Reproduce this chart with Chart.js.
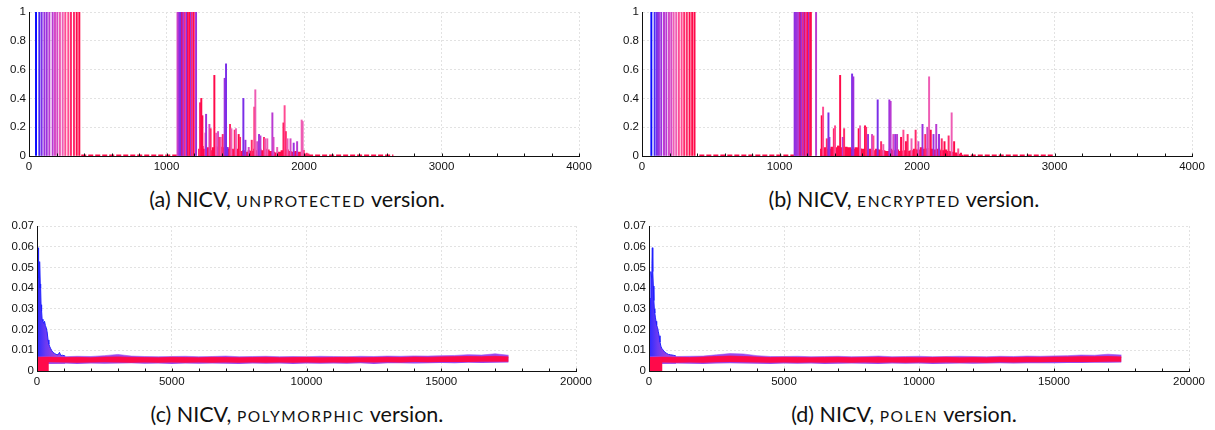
<!DOCTYPE html>
<html><head><meta charset="utf-8">
<script src="https://cdn.jsdelivr.net/npm/chart.js@4.4.0/dist/chart.umd.min.js"></script>
<style>
html,body{margin:0;padding:0;background:#fff;width:1215px;height:430px;overflow:hidden;}
canvas{position:absolute;}
.cap{position:absolute;font-family:Lato,"Open Sans",sans-serif;font-size:21.5px;line-height:24px;color:#111;white-space:nowrap;transform:translateX(-50%);}
.sc{text-transform:uppercase;font-size:15.5px;letter-spacing:1.6px;}
</style></head><body>
<canvas id="ca" width="600" height="172" style="left:0;top:0"></canvas>
<canvas id="cb" width="600" height="172" style="left:613px;top:0"></canvas>
<canvas id="cc" width="600" height="172" style="left:0;top:214px"></canvas>
<canvas id="cd" width="600" height="172" style="left:612px;top:214px"></canvas>
<div class="cap" style="left:297px;top:187px">(a) NICV, <span class="sc">unprotected</span> version.</div>
<div class="cap" style="left:904px;top:187px">(b) NICV, <span class="sc">encrypted</span> version.</div>
<div class="cap" style="left:297px;top:402px">(c) NICV, <span class="sc">polymorphic</span> version.</div>
<div class="cap" style="left:904px;top:402px">(d) NICV, <span class="sc">polen</span> version.</div>
<script>
// ---------- tick labels ----------
const xTicksTop = [0, 1000, 2000, 3000, 4000];
const yTicksTop = [0, 0.2, 0.4, 0.6, 0.8, 1];
const xTicksBottom = [0, 5000, 10000, 15000, 20000];
const yTicksBottom = [0, 0.01, 0.02, 0.03, 0.04, 0.05, 0.06, 0.07];

// colour ramp index 0 (blue) .. 9 (red)
const palette = ['#0a0aff','#4b2af5','#7a2ee8','#9b30dd','#b93ad2','#d648c4','#ee5cb4','#ff4b92','#ff2a6a','#ff0a4a'];

// ---------- (a) unprotected ----------
const aFullX = [51,75,92,112,129,148,172,189,206,225,245,264,286,305,327,347,366,
  1080,1087,1094,1101,1108,1115,1122,1129,1136,1143,1150,1157,1164,1171,1178,1185,1192,1198,1215];
const aFullC = [0,1,2,3,3,4,4,5,5,6,6,7,7,8,8,9,9,
  5,4,3,2,2,9,3,4,8,5,2,9,8,9,3,8,5,9,3];
const aPeakX = [1244,1253,1261,1283,1288,1312,1321,1348,1360,1375,1385,1394,1409,1423,1433,1443,1462,1472,1496,1505,1525,1535,1559,1574,1598,1620,1639,1646,1660,1673,1683,1709,1718,1733,1770,1778,1805,1851,1859,1868,1880,1902,1925,1950,1983,1990,2000,2020,2032];
const aPeakY = [0.37,0.40,0.28,0.16,0.29,0.22,0.19,0.56,0.16,0.17,0.13,0.13,0.15,0.54,0.64,0.06,0.22,0.19,0.18,0.19,0.15,0.13,0.40,0.11,0.06,0.11,0.34,0.46,0.10,0.15,0.14,0.13,0.12,0.12,0.30,0.13,0.06,0.23,0.35,0.17,0.12,0.12,0.09,0.10,0.25,0.24,0.04,0.02,0.015];
const aPeakC = [8,9,9,6,3,5,8,9,6,5,8,6,8,3,2,2,8,6,8,6,9,8,2,3,5,8,8,6,5,3,4,8,6,6,4,5,6,9,7,8,6,5,3,4,6,6,7,8,8];
const aFloorX = [1225,1230,1250,1270,1290,1310,1330,1350,1370,1390,1410,1430,1450,1470,1490,1510,1530,1550,1570,1590,1610,1630,1650,1670,1690,1710,1730,1750,1770,1790,1810,1830,1850,1870,1890,1910,1930,1950,1970,1990,2010,2030,2040];
const aFloorY = [0,0.05,0.07,0.05,0.06,0.04,0.06,0.07,0.06,0.065,0.06,0.05,0.06,0.05,0.04,0.05,0.035,0.04,0.03,0.04,0.035,0.05,0.04,0.05,0.04,0.05,0.045,0.035,0.03,0.025,0.03,0.04,0.05,0.045,0.035,0.03,0.035,0.03,0.03,0.02,0.012,0.008,0];
const aBaseX = [380, 1075, 1076, 2030, 2650];
const aBaseY = [0.005, 0.005, null, 0.005, 0.005];

// ---------- (b) encrypted ----------
const bFullX = [68,92,109,123,140,160,177,196,213,230,249,268,288,307,326,346,365,382,
  1110,1117,1124,1131,1138,1145,1152,1159,1166,1173,1180,1187,1194,1201,1208,1215,1222,1228,1266];
const bFullC = [0,1,2,3,3,4,4,5,5,6,6,7,7,8,8,9,9,9,
  3,2,4,2,5,3,9,2,4,8,3,9,5,8,9,3,8,9,4];
const bPeakX = [1307,1317,1344,1356,1363,1395,1404,1426,1441,1460,1470,1528,1537,1576,1586,1622,1630,1644,1673,1683,1714,1739,1755,1799,1808,1828,1842,1855,1884,1901,1920,1932,1960,1990,2010,2040,2060,2075,2088,2100,2120,2140,2160,2180,2200,2230,2252,2270,2300,2320];
const bPeakY = [0.28,0.34,0.12,0.30,0.13,0.19,0.21,0.07,0.56,0.13,0.19,0.57,0.55,0.19,0.21,0.21,0.20,0.15,0.15,0.14,0.39,0.10,0.08,0.39,0.38,0.15,0.15,0.15,0.13,0.18,0.10,0.15,0.12,0.18,0.10,0.22,0.15,0.20,0.55,0.18,0.15,0.22,0.15,0.12,0.10,0.14,0.30,0.10,0.05,0.02];
const bPeakC = [9,7,8,2,3,8,7,9,9,4,8,2,3,9,6,9,8,3,5,7,2,8,6,3,4,5,3,4,9,7,9,8,6,8,5,3,8,5,6,9,3,4,3,8,9,8,6,9,7,9];
const bFloorX = [1290,1295,1320,1345,1370,1395,1420,1445,1470,1495,1520,1545,1570,1595,1620,1645,1670,1695,1720,1745,1770,1795,1820,1845,1870,1895,1920,1945,1970,1995,2020,2045,2070,2095,2120,2145,2170,2195,2220,2245,2270,2295,2320,2340];
const bFloorY = [0,0.05,0.06,0.05,0.065,0.06,0.07,0.06,0.065,0.06,0.05,0.06,0.055,0.05,0.045,0.05,0.04,0.05,0.045,0.04,0.035,0.05,0.04,0.045,0.035,0.04,0.035,0.04,0.05,0.045,0.06,0.05,0.055,0.05,0.045,0.05,0.04,0.045,0.035,0.03,0.025,0.015,0.008,0];
const bBaseX = [417, 1105, 1106, 2340, 3000];
const bBaseY = [0.005, 0.005, null, 0.005, 0.005];

// ---------- (c) polymorphic ----------
const bandX = [0,500,1000,1500,2000,2500,3000,3500,4000,4500,5000,5500,6000,6500,7000,7500,8000,8500,9000,9500,10000,10500,11000,11500,12000,12500,13000,13500,14000,14500,15000,15500,16000,16500,17000,17500];
const cPurHi = [0.0068,0.0070,0.0069,0.0071,0.0070,0.0074,0.0080,0.0072,0.0070,0.0069,0.0070,0.0071,0.0069,0.0070,0.0072,0.0069,0.0070,0.0071,0.0069,0.0070,0.0069,0.0071,0.0070,0.0069,0.0071,0.0070,0.0072,0.0071,0.0073,0.0072,0.0074,0.0075,0.0079,0.0077,0.0083,0.0076];
const cPurLo = [0.0036,0.0035,0.0036,0.0034,0.0036,0.0035,0.0036,0.0037,0.0035,0.0036,0.0034,0.0036,0.0035,0.0036,0.0035,0.0034,0.0036,0.0035,0.0036,0.0034,0.0036,0.0035,0.0036,0.0035,0.0037,0.0034,0.0037,0.0038,0.0036,0.0038,0.0039,0.0038,0.0040,0.0039,0.0040,0.0041];
const cRedHi = [0.0066,0.0067,0.0065,0.0066,0.0064,0.0067,0.0068,0.0066,0.0065,0.0064,0.0066,0.0065,0.0064,0.0066,0.0065,0.0064,0.0065,0.0066,0.0064,0.0065,0.0066,0.0064,0.0065,0.0066,0.0064,0.0065,0.0066,0.0065,0.0067,0.0066,0.0068,0.0069,0.0070,0.0069,0.0071,0.0068];
const cRedLo = [0.0040,0.0042,0.0041,0.0040,0.0041,0.0042,0.0041,0.0040,0.0041,0.0040,0.0041,0.0040,0.0041,0.0040,0.0041,0.0040,0.0041,0.0040,0.0041,0.0040,0.0041,0.0040,0.0041,0.0040,0.0042,0.0041,0.0042,0.0041,0.0043,0.0042,0.0043,0.0044,0.0044,0.0045,0.0045,0.0045];
const cPeakX = [0,15,30,45,55,62,75,90,105,120,135,150,170,190,220,250,280,310,340,375,410,440,465,500,540,590,650,710,780,835,880,950,1050];
const cPeakY = [0.006,0.030,0.047,0.050,0.0595,0.045,0.048,0.040,0.0528,0.042,0.040,0.032,0.029,0.025,0.024,0.023,0.024,0.022,0.021,0.019,0.015,0.013,0.012,0.011,0.010,0.009,0.0085,0.008,0.0078,0.009,0.0075,0.0076,0.0072];
const cBlockX = [0, 440];
const cBlockY = [0.0064, 0.0064];

// ---------- (d) polen ----------
const dPurHi = [0.0069,0.0071,0.0070,0.0071,0.0072,0.0078,0.0084,0.0082,0.0074,0.0070,0.0070,0.0071,0.0069,0.0070,0.0071,0.0069,0.0070,0.0072,0.0069,0.0070,0.0071,0.0069,0.0070,0.0071,0.0070,0.0069,0.0071,0.0070,0.0072,0.0071,0.0073,0.0074,0.0077,0.0076,0.0081,0.0077];
const dPurLo = [0.0035,0.0035,0.0036,0.0035,0.0034,0.0036,0.0037,0.0036,0.0035,0.0034,0.0036,0.0035,0.0036,0.0034,0.0035,0.0036,0.0035,0.0034,0.0036,0.0035,0.0036,0.0034,0.0035,0.0036,0.0035,0.0036,0.0037,0.0036,0.0037,0.0038,0.0038,0.0039,0.0039,0.0040,0.0040,0.0041];
const dRedHi = [0.0065,0.0067,0.0066,0.0065,0.0067,0.0070,0.0072,0.0070,0.0067,0.0065,0.0066,0.0065,0.0064,0.0065,0.0066,0.0064,0.0065,0.0066,0.0064,0.0065,0.0064,0.0065,0.0066,0.0064,0.0065,0.0064,0.0066,0.0065,0.0066,0.0066,0.0067,0.0068,0.0069,0.0069,0.0070,0.0068];
const dRedLo = [0.0040,0.0041,0.0040,0.0041,0.0040,0.0042,0.0043,0.0042,0.0041,0.0040,0.0041,0.0040,0.0041,0.0040,0.0041,0.0040,0.0041,0.0040,0.0041,0.0040,0.0041,0.0040,0.0041,0.0040,0.0041,0.0040,0.0042,0.0041,0.0042,0.0042,0.0043,0.0043,0.0044,0.0044,0.0045,0.0045];
const dPeakX = [0,40,70,95,110,123,140,160,180,197,215,235,260,284,315,346,375,407,440,469,500,531,590,654,720,800,900,1000];
const dPeakY = [0.006,0.035,0.048,0.045,0.052,0.0595,0.048,0.041,0.034,0.030,0.028,0.026,0.024,0.022,0.021,0.019,0.017,0.014,0.012,0.011,0.0105,0.010,0.009,0.0085,0.008,0.0078,0.0076,0.0072];
const dBlockX = [0, 500];
const dBlockY = [0.0064, 0.0064];

// ---------- helpers ----------
const pts = (xs, ys) => xs.map((x, i) => ({x, y: ys[i]}));
const red = '#ff0a4a', purple = '#8a38ee';

function spikes(xs, ys, cs, thick, order) {
  return {type:'bar', data: xs.map((x,i)=>({x, y: ys ? ys[i] : 1})),
    backgroundColor: cs.map(c => palette[c]), barThickness: thick, grouped:false, borderWidth:0, order};
}
function area(xs, ys, color, order, extra) {
  return Object.assign({type:'line', data: pts(xs, ys), borderWidth:0, pointRadius:0,
    fill:'origin', backgroundColor: color, order}, extra || {});
}
function lineOnly(xs, ys, color, order, extra) {
  return Object.assign({type:'line', data: pts(xs, ys), borderColor: color, borderWidth:1.5,
    pointRadius:0, fill:false, spanGaps:false, order}, extra || {});
}
function peakGradient(ctx) {
  const chart = ctx.chart;
  if (!chart.chartArea) return purple;
  const xs = chart.scales.x;
  const g = chart.ctx.createLinearGradient(xs.getPixelForValue(0), 0, xs.getPixelForValue(700), 0);
  g.addColorStop(0, '#2a2aff'); g.addColorStop(0.45, '#6a3af2'); g.addColorStop(1, '#a040e0');
  return g;
}

const axisPlugin = {
  id: 'axisFront',
  afterDatasetsDraw(chart, args, opts) {
    const xs = chart.scales.x, ctx = chart.ctx, a = chart.chartArea;
    ctx.save();
    ctx.strokeStyle = '#111'; ctx.lineWidth = 1;
    ctx.beginPath();
    const yb = Math.round(a.bottom) + 0.5, xl = Math.round(a.left) + 0.5;
    ctx.moveTo(xl, a.top); ctx.lineTo(xl, yb); ctx.lineTo(Math.round(a.right) + 1, yb);
    for (let v = xs.min; v <= xs.max + 1e-9; v += opts.step) {
      const px = Math.round(xs.getPixelForValue(v)) + 0.5;
      ctx.moveTo(px, yb); ctx.lineTo(px, yb - 3);
    }
    ctx.stroke();
    ctx.restore();
  }
};

function makeChart(id, datasets, cfg) {
  const font = {family:'Liberation Sans', size:11.5};
  const grid = {color:'#e2e2e2', lineWidth:1, drawTicks:false, offset:false};
  const border = {color:'#111', width:1, dash:[2,2]};
  return new Chart(document.getElementById(id), {
    type: 'line',
    data: {datasets},
    options: {
      responsive:false, animation:false, devicePixelRatio:1,
      layout: {padding:{top:12, right:cfg.padR, left:0, bottom:0}},
      plugins: {legend:{display:false}, tooltip:{enabled:false}, axisFront:{step:cfg.minor}},
      scales: {
        x: {type:'linear', min:0, max:cfg.xMax, offset:false, grid, border,
          afterBuildTicks: s => { s.ticks = cfg.xTicks.map(v => ({value:v})); },
          afterFit: s => { s.height = cfg.xH; },
          ticks: {padding:4, color:'#111', font, maxRotation:0, autoSkip:false, callback: v => String(v)}},
        y: {type:'linear', min:0, max:cfg.yMax, grid, border,
          afterBuildTicks: s => { s.ticks = cfg.yTicks.map(v => ({value:v})); },
          afterFit: s => { s.width = cfg.yW; },
          ticks: {padding:3, color:'#111', font, autoSkip:false, callback: v => String(v)}}
      }
    },
    plugins: [axisPlugin]
  });
}

// (a)
makeChart('ca', [
  spikes(aFullX, null, aFullC, 1.3, 1),
  spikes(aPeakX, aPeakY, aPeakC, 1.3, 2),
  area(aFloorX, aFloorY, red, 3, {stepped:true}),
  lineOnly(aBaseX, aBaseY, red, 4, {borderDash:[5,2], borderWidth:1.5})
], {xMax:4000, yMax:1, xTicks:xTicksTop, yTicks:yTicksTop, padR:21, xH:16, yW:29, minor:200});

// (b)
makeChart('cb', [
  spikes(bFullX, null, bFullC, 1.3, 1),
  spikes(bPeakX, bPeakY, bPeakC, 1.3, 2),
  area(bFloorX, bFloorY, red, 3, {stepped:true}),
  lineOnly(bBaseX, bBaseY, red, 4, {borderDash:[5,2], borderWidth:1.5})
], {xMax:4000, yMax:1, xTicks:xTicksTop, yTicks:yTicksTop, padR:21, xH:16, yW:29, minor:200});

// (c)
makeChart('cc', [
  area(cPeakX, cPeakY, peakGradient, 7, {borderColor:'#2020ff', borderWidth:1, fill:{value:0.0035}}),
  area(bandX, cPurLo, 'rgba(0,0,0,0)', 6, {fill:false}),
  area(bandX, cPurHi, '#9a48f0', 6, {fill:'-1', borderColor:'#a050f0', borderWidth:0.6}),
  area(bandX, cRedLo, 'rgba(0,0,0,0)', 5, {fill:false}),
  area(bandX, cRedHi, red, 5, {fill:'-1', borderColor:red, borderWidth:0.8}),
  area(cBlockX, cBlockY, red, 1)
], {xMax:20000, yMax:0.07, xTicks:xTicksBottom, yTicks:yTicksBottom, padR:24, xH:15, yW:37, minor:1000});

// (d)
makeChart('cd', [
  area(dPeakX, dPeakY, peakGradient, 7, {borderColor:'#2020ff', borderWidth:1, fill:{value:0.0035}}),
  area(bandX, dPurLo, 'rgba(0,0,0,0)', 6, {fill:false}),
  area(bandX, dPurHi, '#9a48f0', 6, {fill:'-1', borderColor:'#a050f0', borderWidth:0.6}),
  area(bandX, dRedLo, 'rgba(0,0,0,0)', 5, {fill:false}),
  area(bandX, dRedHi, red, 5, {fill:'-1', borderColor:red, borderWidth:0.8}),
  area(dBlockX, dBlockY, red, 1)
], {xMax:20000, yMax:0.07, xTicks:xTicksBottom, yTicks:yTicksBottom, padR:23, xH:15, yW:37, minor:1000});
</script>
</body></html>
